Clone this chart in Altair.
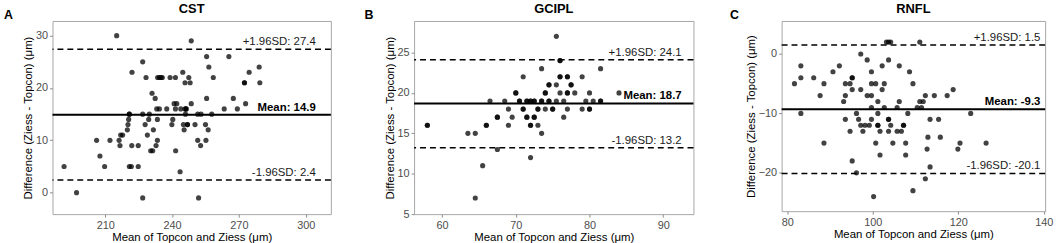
import altair as alt
import pandas as pd

FONT = "Liberation Sans"

# ---------------- data ----------------
# Panel A: CST
cst_mean = [191.5, 197.1, 206.1, 207.6, 209.7, 212.1, 215.1, 216.2, 216.6, 216.9, 217.8, 219.9, 220.2, 220.5,
            220.8, 220.8, 220.8, 221.7, 221.9, 222.0, 224.8, 224.8, 226.8, 226.8, 226.8, 227.9, 228.3, 228.9,
            229.5, 229.8, 230.4, 231.3, 231.0, 231.6, 232.4, 232.8, 233.1, 233.4, 233.4, 233.5, 234.3, 235.0,
            235.6, 234.3, 237.6, 239.1, 239.9, 240.3, 240.9, 241.5, 241.5, 241.6, 242.1, 243.6, 243.9, 244.8,
            245.1, 245.4, 245.8, 245.8, 246.0, 246.3, 246.3, 246.9, 246.9, 247.5, 248.1, 248.6, 248.6, 250.3,
            251.5, 251.5, 251.9, 252.8, 253.0, 255.5, 255.5, 255.0, 256.5, 255.2, 256.2, 257.8, 258.5, 263.4,
            265.5, 267.5, 269.3, 272.5, 272.5, 273.0, 274.6, 279.1, 279.4]
cst_diff = [5, 0, 10, 7, 5, 10, 30, 10, 9, 11, 11, 12, 13, 14,
            15, 15, 5, 5, 9, 23, 5, 9, 25, 15, -1, 13, 22, 11,
            14, 15, 8, 8, 19, 12, 18, 9, 16, 10, 14, 22, 22, 22,
            22, 16, 16, 22, 13, 14, 17, 22, 16, 8, 17, 4, 16, 23,
            13, 12, 21, 16, 15, 16, 16, 13, 13, 22, 21, 17, 29, 13,
            15, 10, -1, 9, 15, 26, 18, 13, 24, 10, 12, 15, 22, 16,
            26, 18, 16, 21, 21, 17, 23, 24, 21]
cst_stats = [14.9, 27.4, 2.4]

# Panel B: GCIPL
gcipl_mean = [58, 58, 63.5, 64.5, 64.5, 65.5, 66, 66, 66.5, 67.5, 67.5, 67.5, 68.5, 69, 69, 69.5,
              70, 70, 70.5, 70.5, 71, 71, 71, 71.5, 71.5, 71.5, 71.5, 72, 72, 72, 72, 72,
              72.5, 72.5, 72.5, 72.5, 73, 73, 73, 73.5, 73.5, 73.5, 73.5, 74, 74, 74, 74.5, 74.5,
              74.5, 74.5, 75, 75, 75.5, 75.5, 75.5, 76, 76, 76, 76, 76, 76.5, 76.5, 77, 77, 77, 77, 77,
              77.5, 77.5, 78, 79, 79, 79.5, 80, 80, 80, 80.5, 81.5, 81.5, 81.5, 84]
gcipl_diff = [16, 16, 15, 15, 7, 11, 16, 16, 19, 17, 17, 13, 19, 18, 16, 17,
              20, 20, 19, 19, 22, 18, 18, 19, 19, 17, 17, 19, 19, 16, 16, 12,
              17, 17, 19, 19, 18, 18, 16, 23, 19, 19, 15, 20, 20, 18, 21, 21,
              19, 19, 18, 18, 27, 21, 19, 24, 24, 22, 22, 20, 19, 17, 22, 22, 20, 20, 18,
              21, 21, 20, 22, 18, 19, 20, 18, 18, 19, 23, 19, 19, 20]
gcipl_stats = [18.7, 24.1, 13.2]

# Panel C: RNFL
rnfl_mean = [81.7, 83.2, 83.2, 83.2, 86.2, 87.7, 88.6, 88.6, 90.7, 92.2, 93.2, 93.6, 93.6, 93.6, 94.7,
             94.7, 95.2, 95.2, 95.2, 95.2, 96.2, 96.2, 96.7, 97.2, 97.2, 97.2, 97.7, 98.2, 98.7, 98.7,
             99.2, 99.7, 99.7, 99.7, 99.7, 99.7, 100.2, 100.7, 100.7, 101.2, 101.2, 101.2, 101.2, 101.7,
             101.7, 102.2, 102.2, 102.7, 102.7, 103.2, 103.7, 104.2, 103.7, 103.7, 103.7, 103.7, 104.2,
             104.7, 105.7, 105.7, 106.2, 106.2, 106.7, 107.2, 107.2, 107.7, 107.7, 108.2, 108.6, 109.4,
             109.4, 110.4, 111.0, 111.0, 111.4, 111.8, 112.3, 112.3, 112.7, 112.9, 113.4, 113.4, 114.4,
             115.4, 115.8, 117.4, 118.8, 119.9, 120.4, 122.9, 126.5]
rnfl_diff = [-5, -2, -4, -10, -4, -7, -5, -15, -3, -2, -8, -5, -7, -11, -5,
             -13, -4, -4, -6, -18, -10, -20, -11, 0, -6, -12, -13, -12, -1, -7,
             -12, -3, -5, -7, -9, -11, -24, -5, -15, -8, -10, -12, -12, -13,
             -17, -6, -2, -5, -9, 2, 2, 2, -1, -11, -11, -13, -12,
             -15, -9, -13, -2, -8, -13, -12, -12, -15, -17, -10, -3, -5,
             -23, -9, 2, -8, -9, -8, -7, -21, -16, -14, -11, -19, -7,
             -11, -14, -7, -6, -16, -15, -10, -15]
rnfl_stats = [-9.3, 1.5, -20.1]

X_TITLE = "Mean of Topcon and Ziess (μm)"
Y_TITLE = "Difference (Ziess - Topcon) (μm)"


def panel(xs, ys, stats, letter, title, xdom, ydom, xticks, yticks, label_x,
          width, height, letter_dx):
    mean, upper, lower = stats
    xs_scale = alt.Scale(domain=xdom, nice=False, zero=False)
    ys_scale = alt.Scale(domain=ydom, nice=False, zero=False)
    x_axis = alt.Axis(values=xticks, title=X_TITLE)
    y_axis = alt.Axis(values=yticks, title=Y_TITLE)

    def X(f):
        return alt.X(f, scale=xs_scale, axis=x_axis)

    def Y(f):
        return alt.Y(f, scale=ys_scale, axis=y_axis)

    pts = alt.Chart(pd.DataFrame({"m": xs, "d": ys})).mark_circle(
        size=27, color="black", opacity=0.74
    ).encode(x=X("m:Q"), y=Y("d:Q"))

    mean_rule = alt.Chart(pd.DataFrame({"d": [mean]})).mark_rule(
        color="black", strokeWidth=2
    ).encode(y=Y("d:Q"))

    sd_rule = alt.Chart(pd.DataFrame({"d": [upper, lower]})).mark_rule(
        color="black", strokeWidth=1.5, strokeDash=[6, 4]
    ).encode(y=Y("d:Q"))

    sd_df = pd.DataFrame({
        "m": [label_x, label_x],
        "d": [upper, lower],
        "t": [f"+1.96SD: {upper}", f"-1.96SD: {lower}"],
    })
    sd_text = alt.Chart(sd_df).mark_text(
        align="right", baseline="bottom", dy=-2, fontSize=11.5, font=FONT, color="#1a1a1a"
    ).encode(x=X("m:Q"), y=Y("d:Q"), text="t:N")

    mean_df = pd.DataFrame({"m": [label_x], "d": [mean], "t": [f"Mean: {mean}"]})
    mean_text = alt.Chart(mean_df).mark_text(
        align="right", baseline="bottom", dy=-2, fontSize=11.5, font=FONT,
        fontWeight="bold", color="black"
    ).encode(x=X("m:Q"), y=Y("d:Q"), text="t:N")

    title_text = alt.Chart(pd.DataFrame({"t": [title]})).mark_text(
        align="center", baseline="middle", fontSize=13, fontWeight="bold",
        font=FONT, color="black"
    ).encode(x=alt.value(width / 2), y=alt.value(-12.5), text="t:N")

    letter_text = alt.Chart(pd.DataFrame({"t": [letter]})).mark_text(
        align="left", baseline="middle", fontSize=12.5, fontWeight="bold",
        font=FONT, color="black"
    ).encode(x=alt.value(letter_dx), y=alt.value(-6), text="t:N")

    return alt.layer(
        pts, mean_rule, sd_rule, sd_text, mean_text, title_text, letter_text
    ).properties(width=width, height=height)


pA = panel(cst_mean, cst_diff, cst_stats, "A", "CST",
           [186.3, 311.3], [-4.1, 32.8], [210, 240, 270, 300], [0, 10, 20, 30],
           304.5, 281, 195, -49)
pB = panel(gcipl_mean, gcipl_diff, gcipl_stats, "B", "GCIPL",
           [56.2, 94.1], [5, 28.9], [60, 70, 80, 90], [5, 10, 15, 20, 25],
           92.5, 282, 195, -50)
pC = panel(rnfl_mean, rnfl_diff, rnfl_stats, "C", "RNFL",
           [78.7, 140.3], [-26.45, 5.55], [80, 100, 120, 140], [-20, -10, 0],
           139.2, 266, 192, -52)

chart = alt.hconcat(
    alt.hconcat(pA, pB, spacing=31),
    pC,
    spacing=34,
).properties(
    padding={"left": 3, "top": 1, "right": 5, "bottom": 2}
).configure_axis(
    domain=False, grid=False, tickColor="#8c8c8c", tickSize=3, tickWidth=1,
    labelColor="#4d4d4d", labelFontSize=11, labelFont=FONT,
    titleFont=FONT, titleFontSize=11.5, titleFontWeight="normal", titleColor="black",
    labelPadding=2, titlePadding=2,
).configure_view(
    stroke="#a6a6a6", strokeWidth=1
)

chart.save("out.html", embed_options={"renderer": "svg", "actions": False})
